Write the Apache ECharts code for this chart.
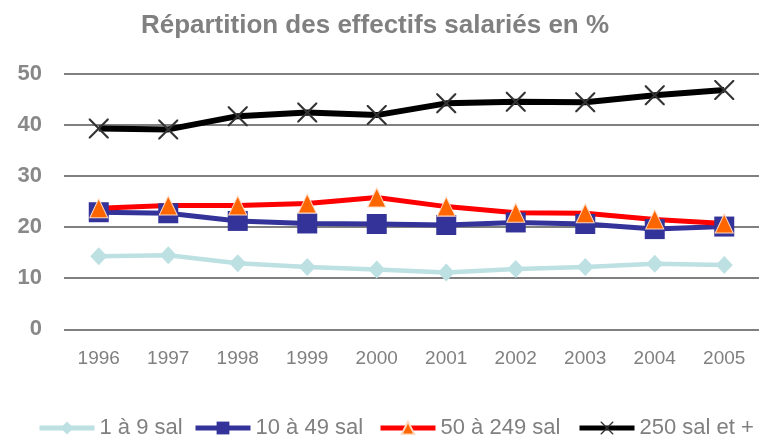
<!DOCTYPE html>
<html><head><meta charset="utf-8">
<script src="https://cdn.jsdelivr.net/npm/echarts@6/dist/echarts.min.js"></script>
<style>html,body{margin:0;padding:0;background:#fff}#c{width:759px;height:435px}</style>
</head><body><div id="c"></div>
<script>
const titleText = "Répartition des effectifs salariés en %";
const years = ["1996","1997","1998","1999","2000","2001","2002","2003","2004","2005"];
const seriesNames = ["1 à 9 sal","10 à 49 sal","50 à 249 sal","250 sal et +"];
const s1a9 = [14.3,14.5,12.9,12.2,11.7,11.1,11.8,12.2,12.8,12.6];
const s10a49 = [22.9,22.7,21.2,20.7,20.6,20.4,20.9,20.6,19.6,20.1];
const s50a249 = [23.7,24.2,24.2,24.6,25.8,24.0,22.8,22.7,21.5,20.7];
const s250 = [39.3,39.1,41.7,42.4,41.9,44.2,44.5,44.4,45.8,46.8];
const yTicks = {min:0,max:50,interval:10};

const crossPath = 'path://M0,0L1.5,0L10,8.5L18.5,0L20,0L20,1.5L11.5,10L20,18.5L20,20L18.5,20L10,11.5L1.5,20L0,20L0,18.5L8.5,10L0,1.5Z';
const font = '"Liberation Sans",Arial,sans-serif';
const legendLefts = [32,188,373,572];

const chart = echarts.init(document.getElementById('c'), null, {renderer:'canvas'});
chart.setOption({
  animation:false,
  title:{text:titleText,left:370,top:8,textAlign:'center',
    textStyle:{fontFamily:font,fontSize:26,fontWeight:'bold',color:'#808080'}},
  legend:seriesNames.map((n,i)=>({left:legendLefts[i],top:412,itemWidth:55,itemHeight:16,
    lineStyle:{width:5},
    textStyle:{fontFamily:font,fontSize:22,color:'#808080'},data:[n]})),
  grid:{left:64,right:-9,top:73.7,bottom:105.7,containLabel:false},
  xAxis:{type:'category',data:years,boundaryGap:true,
    axisLine:{show:false},axisTick:{show:false},
    axisLabel:{margin:20,fontFamily:font,fontSize:19,color:'#808080'}},
  yAxis:{type:'value',min:yTicks.min,max:yTicks.max,interval:yTicks.interval,
    axisLine:{show:false},axisTick:{show:false},
    splitLine:{lineStyle:{color:'#808080',width:2}},
    axisLabel:{margin:22,fontFamily:font,fontSize:22,fontWeight:'bold',color:'#888888'}},
  series:[
    {name:seriesNames[0],type:'line',data:s1a9,symbol:'diamond',symbolSize:[17,18],
      lineStyle:{color:'#BDE0E3',width:4.5},itemStyle:{color:'#BDE0E3'}},
    {name:seriesNames[1],type:'line',data:s10a49,symbol:'rect',symbolSize:20,
      lineStyle:{color:'#333399',width:5},itemStyle:{color:'#333399'}},
    {name:seriesNames[2],type:'line',data:s50a249,symbol:'triangle',symbolSize:[18,19],
      lineStyle:{color:'#FF0000',width:5},itemStyle:{color:'#FF6600',borderColor:'#FFD9C0',borderWidth:1}},
    {name:seriesNames[3],type:'line',data:s250,symbol:crossPath,symbolSize:20,
      lineStyle:{color:'#000000',width:6},itemStyle:{color:'#333333'}}
  ]
});
</script>
</body></html>
